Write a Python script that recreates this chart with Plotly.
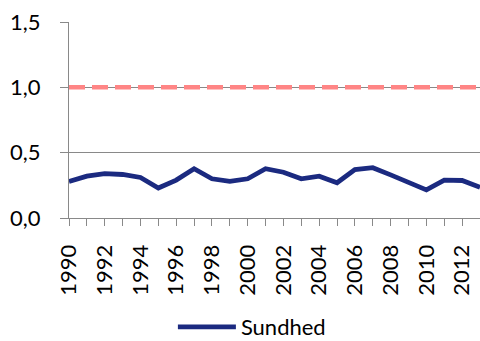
import plotly.graph_objects as go

years = list(range(1990, 2014))
sundhed = [0.28, 0.32, 0.34, 0.333, 0.31, 0.23, 0.29, 0.377, 0.30, 0.28, 0.30, 0.377,
           0.35, 0.30, 0.32, 0.27, 0.37, 0.385, 0.33, 0.27, 0.215, 0.29, 0.287, 0.235]
reference = [1.0] * len(years)
series_name = "Sundhed"
y_ticks = [0.0, 0.5, 1.0, 1.5]
x_label_years = list(range(1990, 2014, 2))

FONT = "Lato, 'Open Sans', sans-serif"
GRID = "#898989"
FS = 22

fig = go.Figure()
fig.add_trace(go.Scatter(
    x=years, y=reference, mode="lines", showlegend=False, hoverinfo="skip",
    line=dict(color="#FF8585", width=4.5, dash="16px,7px"),
))
fig.add_trace(go.Scatter(
    x=years, y=sundhed, mode="lines", name=series_name,
    line=dict(color="#1B2A80", width=4.8),
))

fig.update_layout(
    width=480, height=341,
    margin=dict(l=69, r=0, t=22, b=123, pad=0, autoexpand=False),
    paper_bgcolor="white", plot_bgcolor="white",
    separators=",.",
    font=dict(family=FONT, size=FS, color="#000000"),
    showlegend=True,
    legend=dict(
        orientation="h", x=0.445, xanchor="center", y=-0.556, yanchor="middle",
        font=dict(family=FONT, size=FS, color="#000000"),
        itemwidth=58, bgcolor="rgba(0,0,0,0)",
    ),
    xaxis=dict(
        range=[1990, 2013], automargin=False,
        tickmode="array", tickvals=x_label_years, ticktext=[str(y) for y in x_label_years],
        tickangle=-90,
        ticks="outside", ticklen=7, tickcolor=GRID, tickwidth=1,
        minor=dict(dtick=1, tick0=1990, ticks="outside", ticklen=7, tickcolor=GRID, tickwidth=1, showgrid=False),
        showline=True, linecolor=GRID, linewidth=1,
        showgrid=False, zeroline=False,
        tickfont=dict(family=FONT, size=FS, color="#000000"),
        ticklabelstandoff=10,
    ),
    yaxis=dict(
        range=[0, 1.5], automargin=False,
        tickmode="array", tickvals=y_ticks, tickformat=".1f",
        ticks="outside", ticklen=8, tickcolor=GRID, tickwidth=1,
        showline=True, linecolor=GRID, linewidth=1,
        showgrid=True, gridcolor=GRID, gridwidth=1,
        zeroline=False,
        tickfont=dict(family=FONT, size=FS, color="#000000"),
        ticklabelstandoff=15,
    ),
)

fig.write_html(
    "out.html",
    config={"displayModeBar": False},
    post_script="document.body.style.margin='0';document.body.style.overflow='hidden';",
)
